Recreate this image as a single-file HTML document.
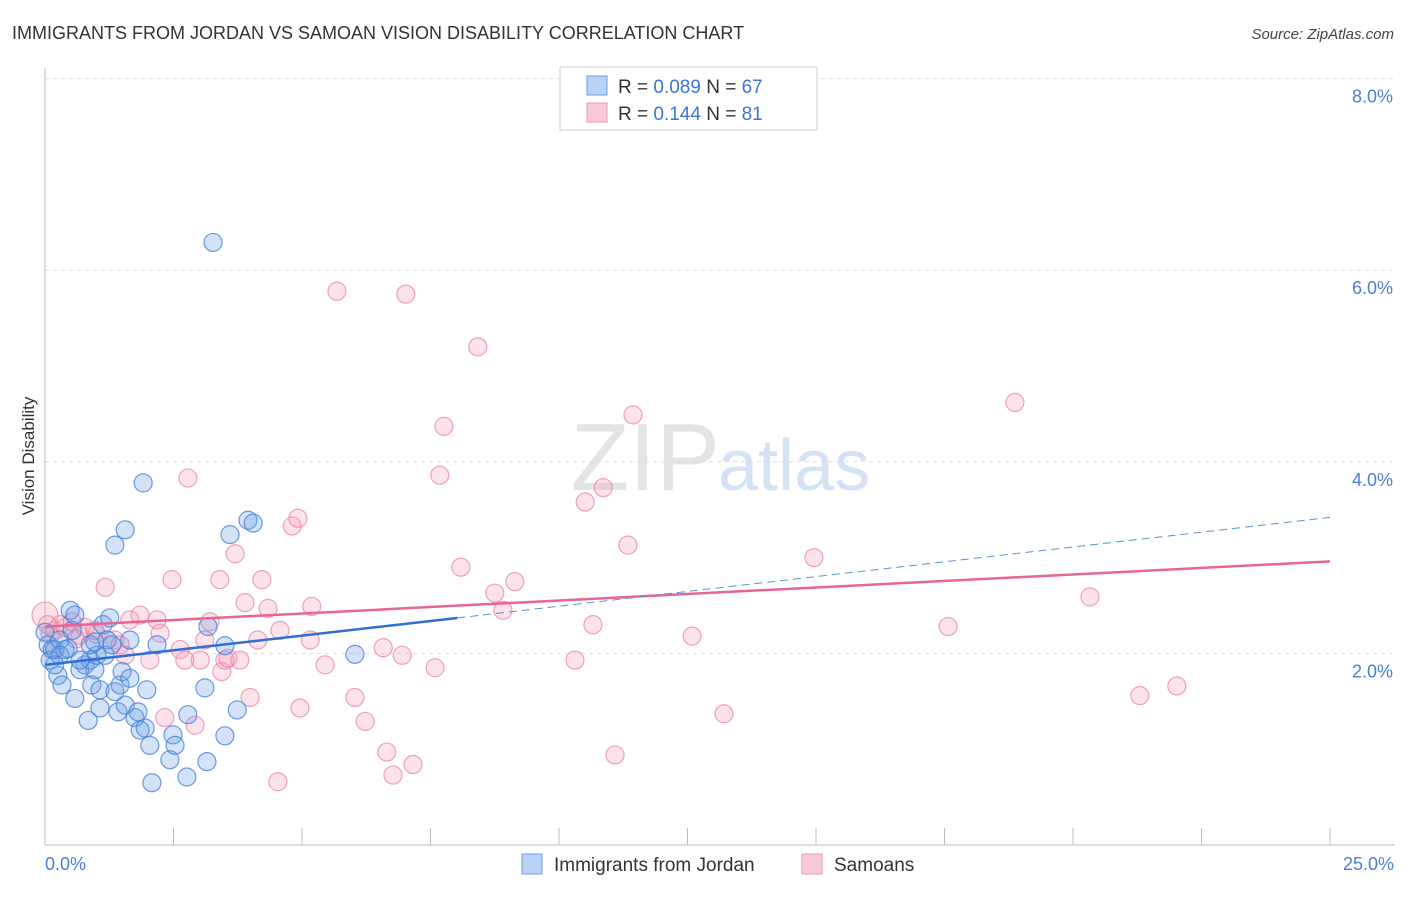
<!DOCTYPE html>
<html><head><meta charset="utf-8"><style>
body{margin:0;background:#fff;font-family:"Liberation Sans",sans-serif}
svg text{font-family:"Liberation Sans",sans-serif}
</style></head><body>
<svg id="chart" width="1406" height="892" viewBox="0 0 1406 892">
<text x="12" y="39" font-size="18" fill="#333">IMMIGRANTS FROM JORDAN VS SAMOAN VISION DISABILITY CORRELATION CHART</text>
<text x="1394" y="39" font-size="15" fill="#444" text-anchor="end" font-style="italic">Source: ZipAtlas.com</text>
<text x="720" y="490" font-size="96" fill="#e4e4e4" text-anchor="end" font-family="Liberation Serif">ZIP</text>
<text x="718" y="490" font-size="72" fill="#d3e2f5">atlas</text>
<g id="grid"></g>
<line x1="45" y1="68" x2="45" y2="845" stroke="#bbb"/>
<line x1="45" y1="845" x2="1395" y2="845" stroke="#bbb"/>
<text transform="translate(34,456) rotate(-90)" font-size="17" fill="#333" text-anchor="middle">Vision Disability</text>
<text x="45" y="870" font-size="18" fill="#4a7fd8">0.0%</text>
<text x="1394" y="870" font-size="18" fill="#4a7fd8" text-anchor="end">25.0%</text>
<g id="points"></g>
<g id="lines"></g>
<g>
<rect x="560" y="67" width="257" height="63" fill="#fff" stroke="#ccc"/>
<rect x="587" y="76" width="20" height="19" fill="#b8d3f5" stroke="#6a9fe0"/>
<rect x="587" y="103" width="20" height="19" fill="#f9c9d8" stroke="#ee9ab5"/>
<text x="618" y="93" font-size="19" fill="#333">R = <tspan fill="#3b74d4">0.089</tspan>   N = <tspan fill="#3b74d4">67</tspan></text>
<text x="618" y="120" font-size="19" fill="#333">R =  <tspan fill="#3b74d4">0.144</tspan>   N =  <tspan fill="#3b74d4">81</tspan></text>
</g>
<g>
<rect x="522" y="854" width="20" height="20" fill="#b8d3f5" stroke="#6a9fe0"/>
<text x="554" y="871" font-size="19" fill="#333">Immigrants from Jordan</text>
<rect x="802" y="854" width="20" height="20" fill="#f9c9d8" stroke="#ee9ab5"/>
<text x="834" y="871" font-size="19" fill="#333">Samoans</text>
</g>
</svg>
<script>
const yTicks=[2,4,6,8];
const xTickCount=10;
const blueX=[0,0.06,0.10,0.14,0.19,0.25,0.29,0.33,0.39,0.49,0.53,0.58,0.58,0.68,0.78,0.84,0.88,0.91,0.97,1.01,1.07,1.07,1.13,1.17,1.21,1.26,1.30,1.36,1.36,1.42,1.46,1.50,1.56,1.56,1.65,1.75,1.81,1.85,1.91,1.95,1.98,2.04,2.08,2.18,2.43,2.49,2.53,2.76,2.78,3.11,3.15,3.17,3.27,3.50,3.50,3.60,3.74,3.95,4.05,6.03,0.68,0.88,0.97,0.29,0.19,1.65,0.45];
const blueY=[2.22,2.09,1.93,2.04,2.04,1.77,2.14,1.67,2.04,2.45,2.24,1.53,2.40,1.83,1.88,1.30,1.93,1.67,1.83,1.98,1.62,1.43,2.30,1.98,2.14,2.37,2.09,3.13,1.60,1.39,1.67,1.81,3.29,1.46,1.74,1.33,1.39,1.20,3.78,1.22,1.62,1.04,0.65,2.09,0.89,1.15,1.04,0.71,1.36,1.64,0.87,2.28,6.29,1.14,2.08,3.24,1.41,3.39,3.36,1.99,1.93,2.09,2.12,1.98,1.88,2.14,2.05];
const pinkX=[0,0.19,0.29,0.39,0.53,0.68,0.78,0.97,1.17,1.36,1.46,1.56,1.65,1.85,2.04,2.18,2.24,2.33,2.47,2.63,2.72,2.78,2.92,3.02,3.11,3.21,3.40,3.44,3.50,3.56,3.70,3.79,3.89,3.99,4.14,4.22,4.34,4.53,4.57,4.81,4.92,4.96,5.19,5.16,5.45,5.68,6.03,6.23,6.58,6.65,6.77,6.95,7.02,7.16,7.59,7.76,7.68,8.09,8.42,8.75,8.91,9.14,10.31,10.51,10.66,10.86,11.09,11.34,11.44,12.59,13.21,14.96,17.57,18.87,20.33,21.30,22.02,0.1,0.05,0.6,1.0];
const pinkY=[2.40,2.24,2.30,2.27,2.33,2.19,2.27,2.24,2.69,2.14,2.09,1.98,2.35,2.40,1.93,2.35,2.21,1.33,2.77,2.04,1.93,3.83,1.25,1.93,2.14,2.33,2.77,1.81,1.93,1.95,3.04,1.93,2.53,1.54,2.14,2.77,2.47,0.66,2.24,3.33,3.41,1.43,2.49,2.14,1.88,5.78,1.54,1.29,2.06,0.97,0.73,1.98,5.75,0.84,1.85,4.37,3.86,2.90,5.20,2.63,2.45,2.75,1.93,3.58,2.30,3.73,0.94,3.13,4.49,2.18,1.37,3.00,2.28,4.62,2.59,1.56,1.66,2.2,2.3,2.15,2.2];
const blueTrend=[1.88,2.37,3.42]; // at x=0, x=8.02 (end solid), x=25
const pinkTrend=[2.28,2.96];
const NS="http://www.w3.org/2000/svg";
const X=v=>45+v/25*1285;
const Y=v=>845-v*95.8;
function mk(tag,attrs,parent){const e=document.createElementNS(NS,tag);for(const k in attrs)e.setAttribute(k,attrs[k]);parent.appendChild(e);return e;}
const grid=document.getElementById('grid');
yTicks.forEach(t=>{
 const l=mk('line',{x1:45,x2:1395,y1:Y(t),y2:Y(t),stroke:'#ddd','stroke-dasharray':'4,4'},grid);
 
 
 const tx=mk('text',{x:1393,y:Y(t)+24,'font-size':18,fill:'#4a7fd8','text-anchor':'end'},grid);
 tx.textContent=t.toFixed(1)+'%';
 
 
});
for(let i=1;i<=xTickCount;i++){
 const l=mk('line',{x1:X(i*2.5),x2:X(i*2.5),y1:828,y2:845,stroke:'#bbb'},grid);
 
 
}
const pts=document.getElementById('points');
pinkX.forEach((x,i)=>{
 const c=mk('circle',{cx:X(x),cy:Y(pinkY[i]),r:i==0?13:9,fill:'rgba(244,160,190,0.3)',stroke:'rgba(236,130,165,0.75)','stroke-width':1.2},pts);
 
 
});
blueX.forEach((x,i)=>{
 const c=mk('circle',{cx:X(x),cy:Y(blueY[i]),r:9,fill:'rgba(110,160,230,0.3)',stroke:'rgba(70,130,215,0.8)','stroke-width':1.2},pts);
 
 
});
const ln=document.getElementById('lines');
const pl=mk('line',{x1:X(0),y1:Y(pinkTrend[0]),x2:X(25),y2:Y(pinkTrend[1]),stroke:'#e86592','stroke-width':2.5},ln);


const bd=mk('line',{x1:X(8.02),y1:Y(blueTrend[1]),x2:X(25),y2:Y(blueTrend[2]),stroke:'#5b8fd8','stroke-width':1,'stroke-dasharray':'8,5'},ln);


const bl=mk('line',{x1:X(0),y1:Y(blueTrend[0]),x2:X(8.02),y2:Y(blueTrend[1]),stroke:'#2f6fd6','stroke-width':2.5},ln);


</script>
</body></html>
